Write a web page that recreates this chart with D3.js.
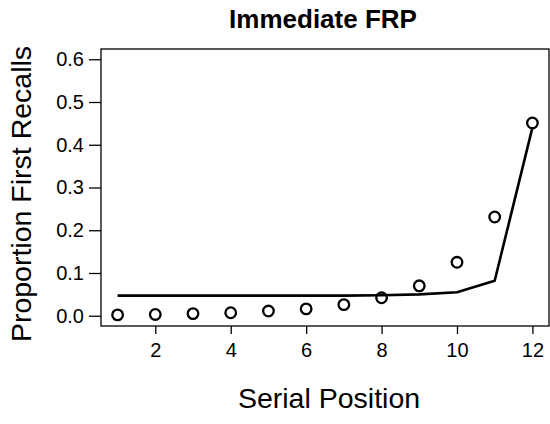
<!DOCTYPE html>
<html>
<head>
<meta charset="utf-8">
<script src="https://cdn.jsdelivr.net/npm/d3@7"></script>
<style>
  body { margin: 0; background: #fff; }
  svg { display: block; font-family: "Liberation Sans", Arial, Helvetica, sans-serif; }
</style>
</head>
<body>
<script>
const positions = [1, 2, 3, 4, 5, 6, 7, 8, 9, 10, 11, 12];
const observed = [0.002, 0.003, 0.005, 0.007, 0.011, 0.016, 0.026, 0.042, 0.070, 0.125, 0.231, 0.451];
const model = [0.047, 0.047, 0.047, 0.047, 0.047, 0.047, 0.047, 0.048, 0.050, 0.055, 0.082, 0.440];
const xTicks = [2, 4, 6, 8, 10, 12];
const yTicks = [0, 0.1, 0.2, 0.3, 0.4, 0.5, 0.6];

const width = 550;
const height = 424;
const plot = { left: 101, right: 549, top: 49, bottom: 326 };

const xScale = d3.scaleLinear()
  .domain([0.56, 12.44])
  .range([plot.left, plot.right]);

const yScale = d3.scaleLinear()
  .domain([-0.024, 0.624])
  .range([plot.bottom, plot.top]);

const svg = d3.select('body')
  .append('svg')
  .attr('width', width)
  .attr('height', height);

// box around the plot region
svg.append('rect')
  .attr('x', plot.left)
  .attr('y', plot.top)
  .attr('width', plot.right - plot.left)
  .attr('height', plot.bottom - plot.top)
  .attr('fill', 'none')
  .attr('stroke', '#000')
  .attr('stroke-width', 1.3);

const xAxis = d3.axisBottom(xScale)
  .tickValues(xTicks)
  .tickSize(8)
  .tickPadding(9)
  .tickFormat(d3.format('d'));

const yAxis = d3.axisLeft(yScale)
  .tickValues(yTicks)
  .tickSize(12)
  .tickPadding(5)
  .tickFormat(d3.format('.1f'));

const gx = svg.append('g')
  .attr('transform', 'translate(0,' + plot.bottom + ')')
  .call(xAxis);

const gy = svg.append('g')
  .attr('transform', 'translate(' + plot.left + ',0)')
  .call(yAxis);

[gx, gy].forEach((g) => {
  g.select('.domain').remove();
  g.selectAll('line').attr('stroke', '#000').attr('stroke-width', 1.3);
  g.selectAll('text')
    .attr('fill', '#000')
    .style('font-size', '20px')
    .style('font-family', '"Liberation Sans", Arial, sans-serif');
});

// model line
const line = d3.line()
  .x((d, i) => xScale(positions[i]))
  .y((d) => yScale(d));

svg.append('path')
  .datum(model)
  .attr('d', line)
  .attr('fill', 'none')
  .attr('stroke', '#000')
  .attr('stroke-width', 2.6)
  .attr('stroke-linejoin', 'round');

// observed points
svg.append('g')
  .selectAll('circle')
  .data(observed)
  .enter()
  .append('circle')
  .attr('cx', (d, i) => xScale(positions[i]))
  .attr('cy', (d) => yScale(d))
  .attr('r', 5.3)
  .attr('fill', 'none')
  .attr('stroke', '#000')
  .attr('stroke-width', 2.3);

svg.append('text')
  .attr('x', 323)
  .attr('y', 27.5)
  .attr('text-anchor', 'middle')
  .style('font-size', '26px')
  .style('font-weight', 'bold')
  .text('Immediate FRP');

svg.append('text')
  .attr('x', 329)
  .attr('y', 408)
  .attr('text-anchor', 'middle')
  .style('font-size', '28.5px')
  .text('Serial Position');

svg.append('text')
  .attr('transform', 'translate(31,194) rotate(-90)')
  .attr('text-anchor', 'middle')
  .style('font-size', '28.5px')
  .text('Proportion First Recalls');
</script>
</body>
</html>
